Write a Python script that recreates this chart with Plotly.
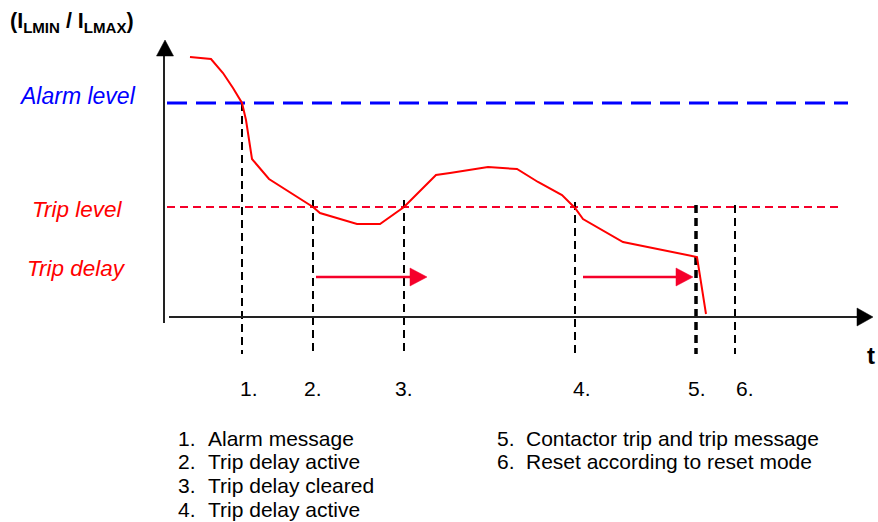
import plotly.graph_objects as go

# ---- data (diagram units: t horizontal, level vertical) ----
t_curve = [190, 211, 223, 233, 242, 246, 252, 269, 313, 320, 357, 380, 404, 436, 450, 488, 517, 538, 562, 575, 583, 623, 697, 706]
level_curve = [57, 59, 73, 88, 103, 120, 159, 179, 207, 213, 224, 224, 207, 175, 173, 167, 169, 182, 195, 208, 219, 242, 257, 314]

alarm_level = 103
trip_level = 207
level_start = 167
alarm_end = 848
trip_end = 838

event_t = [242, 313, 404, 575, 696, 735]
event_top = [103, 200, 200, 202, 205, 205]
event_bottom = 354
event_width = [2, 2, 2, 2, 3.5, 2]
event_labels = ["1.", "2.", "3.", "4.", "5.", "6."]
event_label_t = [249, 313, 404, 582, 697, 745]
event_label_y = 388

delay_start = [316, 583]
delay_end = [427, 693]
delay_level = 277

legend_left = ["Alarm message", "Trip delay active", "Trip delay cleared", "Trip delay active"]
legend_right = ["Contactor trip and trip message", "Reset according to reset mode"]

axis_origin_t = 164
axis_origin_level = 317
axis_t_end = 873
axis_level_top = 40

FONT = "Arial, Liberation Sans, sans-serif"
RED = "#FF0000"
RED2 = "#F5002A"

fig = go.Figure()

# alarm level
fig.add_trace(go.Scatter(x=[level_start, alarm_end], y=[alarm_level, alarm_level], mode="lines",
                         line=dict(color="#0000FF", width=3, dash="20px,9px"), hoverinfo="skip"))
# trip level
fig.add_trace(go.Scatter(x=[level_start, trip_end], y=[trip_level, trip_level], mode="lines",
                         line=dict(color=RED2, width=2, dash="8px,5px"), hoverinfo="skip"))

# event markers (vertical dashed)
for t, top, w in zip(event_t, event_top, event_width):
    fig.add_trace(go.Scatter(x=[t, t], y=[top, event_bottom], mode="lines",
                             line=dict(color="#000000", width=w, dash="8px,5px"), hoverinfo="skip"))

# current curve
fig.add_trace(go.Scatter(x=t_curve, y=level_curve, mode="lines",
                         line=dict(color=RED, width=2), hoverinfo="skip"))

# trip delay arrows
head_len, head_half = 17, 9
for s, e in zip(delay_start, delay_end):
    fig.add_trace(go.Scatter(x=[s, e - head_len], y=[delay_level, delay_level], mode="lines",
                             line=dict(color=RED2, width=2.5), hoverinfo="skip"))
    fig.add_trace(go.Scatter(x=[e, e - head_len, e - head_len, e],
                             y=[delay_level, delay_level - head_half, delay_level + head_half, delay_level],
                             mode="lines", fill="toself", fillcolor=RED2,
                             line=dict(color=RED2, width=0.5), hoverinfo="skip"))

# axes with arrowheads
ax_col = "#222222"
fig.add_trace(go.Scatter(x=[axis_origin_t, axis_origin_t], y=[axis_level_top + 16, 323], mode="lines",
                         line=dict(color=ax_col, width=2), hoverinfo="skip"))
fig.add_trace(go.Scatter(x=[axis_origin_t + 1, axis_origin_t - 7.5, axis_origin_t + 9.5, axis_origin_t + 1],
                         y=[axis_level_top, axis_level_top + 16, axis_level_top + 16, axis_level_top],
                         mode="lines", fill="toself", fillcolor="#000000",
                         line=dict(color="#000000", width=0.5), hoverinfo="skip"))
fig.add_trace(go.Scatter(x=[169, axis_t_end - 16], y=[axis_origin_level, axis_origin_level], mode="lines",
                         line=dict(color=ax_col, width=2), hoverinfo="skip"))
fig.add_trace(go.Scatter(x=[axis_t_end, axis_t_end - 16, axis_t_end - 16, axis_t_end],
                         y=[axis_origin_level, axis_origin_level - 9, axis_origin_level + 9, axis_origin_level],
                         mode="lines", fill="toself", fillcolor="#000000",
                         line=dict(color="#000000", width=0.5), hoverinfo="skip"))

ann = []
ann.append(dict(x=8, y=22, text="<b>(I<sub>LMIN</sub> / I<sub>LMAX</sub>)</b>", xanchor="left", yanchor="middle",
                font=dict(family=FONT, size=21.5, color="#000000")))
ann.append(dict(x=17, y=96, text="<i>Alarm level</i>", xanchor="left", yanchor="middle",
                font=dict(family=FONT, size=23, color="#0000FF")))
ann.append(dict(x=30, y=209, text="<i>Trip level</i>", xanchor="left", yanchor="middle",
                font=dict(family=FONT, size=22.5, color=RED)))
ann.append(dict(x=25, y=268, text="<i>Trip delay</i>", xanchor="left", yanchor="middle",
                font=dict(family=FONT, size=22.5, color=RED)))
ann.append(dict(x=871, y=355, text="<b>t</b>", xanchor="center", yanchor="middle",
                font=dict(family=FONT, size=24, color="#000000")))
for lab, t in zip(event_labels, event_label_t):
    ann.append(dict(x=t, y=event_label_y, text=lab, xanchor="center", yanchor="middle",
                    font=dict(family=FONT, size=21, color="#000000")))
for i, txt in enumerate(legend_left):
    y = 438 + i * 23.8
    ann.append(dict(x=176, y=y, text=f"{i + 1}.", xanchor="left", yanchor="middle",
                    font=dict(family=FONT, size=21, color="#000000")))
    ann.append(dict(x=206, y=y, text=txt, xanchor="left", yanchor="middle",
                    font=dict(family=FONT, size=21, color="#000000")))
for i, txt in enumerate(legend_right):
    y = 438 + i * 23.8
    ann.append(dict(x=495, y=y, text=f"{i + 5}.", xanchor="left", yanchor="middle",
                    font=dict(family=FONT, size=21, color="#000000")))
    ann.append(dict(x=524, y=y, text=txt, xanchor="left", yanchor="middle",
                    font=dict(family=FONT, size=21, color="#000000")))
for a in ann:
    a.update(xref="x", yref="y", showarrow=False)

fig.update_layout(
    width=878, height=522,
    margin=dict(l=0, r=0, t=0, b=0),
    paper_bgcolor="white", plot_bgcolor="white",
    showlegend=False,
    annotations=ann,
    xaxis=dict(range=[0, 878], visible=False, fixedrange=True),
    yaxis=dict(range=[522, 0], visible=False, fixedrange=True),
)

fig.write_html("out.html", config={"displayModeBar": False},
               post_script="document.body.style.margin='0';document.body.style.overflow='hidden';")
